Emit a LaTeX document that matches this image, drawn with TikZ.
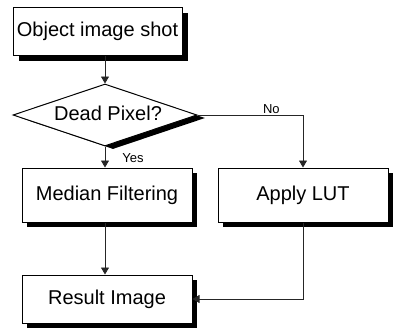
\documentclass[tikz,border=0pt]{standalone}
\usepackage{fontspec}
\setmainfont{Liberation Sans}
\usetikzlibrary{shapes.geometric,arrows.meta}
\begin{document}
\begin{tikzpicture}[x=1pt,y=-1pt,
  boxnode/.style={draw=black,line width=1pt,fill=white,inner sep=0pt,font=\fontsize{20}{24}\selectfont},
  shadebox/.style={fill=black,draw=none,inner sep=0pt},
  decision/.style={diamond,draw=black,line width=1pt,fill=white,inner sep=0pt,aspect=3},
  shadediamond/.style={diamond,fill=black,draw=none,inner sep=0pt,aspect=3},
  lbl/.style={font=\fontsize{13}{15}\selectfont,inner sep=1pt},
  conn/.style={line width=0.8pt,draw=black!85,-{Triangle[width=8pt,length=7pt]}}]
\useasboundingbox (0,0) rectangle (394,330);
% shadows
\node[shadebox,minimum width=169pt,minimum height=48pt] (shotsh) at (103,37) {};
\node[shadediamond,minimum width=184pt,minimum height=62pt] (deadsh) at (113,118) {};
\node[shadebox,minimum width=170pt,minimum height=54pt] (medsh) at (112,200) {};
\node[shadebox,minimum width=170pt,minimum height=54pt] (lutsh) at (308,200) {};
\node[shadebox,minimum width=170pt,minimum height=48pt] (ressh) at (112,304) {};
% nodes
\node[boxnode,minimum width=169pt,minimum height=48pt] (shot) at (97.5,31) {Object image shot};
\node[decision,minimum width=184pt,minimum height=62pt] (dead) at (105,115) {};
\node[font=\fontsize{20}{24}\selectfont] (deadtxt) at (108,113) {Dead Pixel?};
\node[boxnode,minimum width=170pt,minimum height=54pt] (med) at (107,195) {Median Filtering};
\node[boxnode,minimum width=170pt,minimum height=54pt] (lut) at (303,195) {Apply LUT};
\node[boxnode,minimum width=170pt,minimum height=48pt] (res) at (107,299) {Result Image};
% connectors
\draw[conn] (dead.north |- shot.south) -- (dead.north);
\draw[conn] (dead.south) -- (dead.south |- med.north) node[lbl,pos=0.55,anchor=west,xshift=16pt] (yes) {Yes};
\draw[conn] (dead.east) -| (lut.north) node[lbl,pos=0.35,anchor=south] (no) {No};
\draw[conn] (dead.south |- med.south) -- (dead.south |- res.north);
\draw[conn] (lut.south) |- (res.east);
\end{tikzpicture}
\end{document}
